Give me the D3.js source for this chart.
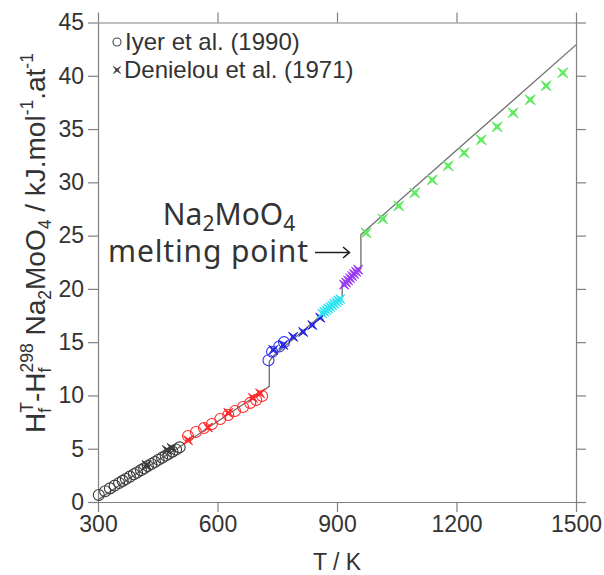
<!DOCTYPE html>
<html>
<head>
<meta charset="utf-8">
<script src="https://cdnjs.cloudflare.com/ajax/libs/d3/7.8.5/d3.min.js"></script>
<style>
body { margin: 0; background: #fff; }
svg text { font-family: "Liberation Sans", Arial, sans-serif; fill: #333; }
</style>
</head>
<body>
<script>
// calculated curve (grey line)
var line_T = [300, 400, 500, 600, 700, 730, 730, 740, 860, 913, 913, 960, 960, 1500]
var line_H = [0.2, 2.75, 5.05, 7.55, 10.05, 10.85, 13.2, 13.7, 17.5, 19.2, 20.4, 21.9, 25.1, 42.9]

// Iyer et al. (1990) - circles
var iyer_black_T = [302, 318, 330, 342, 353, 362, 370, 380, 390, 398, 408, 416, 425, 434, 443, 452, 461, 470, 478, 487, 496, 505]
var iyer_black_H = [0.66, 1.01, 1.28, 1.54, 1.78, 1.98, 2.16, 2.38, 2.6, 2.77, 2.99, 3.17, 3.37, 3.56, 3.76, 3.96, 4.16, 4.36, 4.53, 4.73, 4.93, 5.13]
var iyer_red_T = [526, 546, 566, 586, 607, 627, 644, 664, 682, 697, 712]
var iyer_red_H = [6.2, 6.57, 6.95, 7.32, 7.79, 8.17, 8.54, 8.92, 9.3, 9.58, 9.95]
var iyer_blue_T = [728, 737, 755, 767]
var iyer_blue_H = [13.3, 14.1, 14.6, 15.0]

// Denielou et al. (1971) - crosses
var den_black_T = [422, 473, 485]
var den_black_H = [3.47, 4.88, 5.07]
var den_red_T = [526, 576, 627, 689, 707]
var den_red_H = [5.8, 7.0, 8.36, 9.77, 10.2]
var den_blue_T = [740, 765, 790, 815, 838, 858]
var den_blue_H = [14.27, 14.74, 15.5, 15.96, 16.6, 17.3]
var den_cyan_T = [863, 868, 873, 878, 883, 888, 893, 898, 903, 908]
var den_cyan_H = [17.7, 17.85, 18.0, 18.15, 18.3, 18.45, 18.6, 18.75, 18.9, 19.05]
var den_purple_T = [918, 923, 928, 933, 938, 943, 948, 953]
var den_purple_H = [20.4, 20.6, 20.8, 21.0, 21.2, 21.4, 21.6, 21.8]
var den_green_T = [973, 1015, 1055, 1095, 1139, 1179, 1219, 1262, 1302, 1342, 1385, 1425, 1467]
var den_green_H = [25.26, 26.57, 27.79, 29.01, 30.23, 31.55, 32.77, 33.99, 35.21, 36.53, 37.75, 39.06, 40.28]

var x_ticks = [300, 600, 900, 1200, 1500]
var y_ticks = [0, 5, 10, 15, 20, 25, 30, 35, 40, 45]

var zip = (T, H) => T.map((t, i) => ({T: t, H: H[i]}))

var svg = d3.select('body').append('svg').attr('width', 604).attr('height', 575)

var x = d3.scaleLinear().domain([300, 1500]).range([98, 576])
var y = d3.scaleLinear().domain([0, 45]).range([502, 22.5])

var axis_col = '#808080'
function style_axis(g) {
	g.select('.domain').attr('stroke', axis_col).attr('stroke-width', 1.2)
	g.selectAll('.tick line').attr('stroke', axis_col).attr('stroke-width', 1.2)
	g.selectAll('.tick text').attr('font-size', 23).attr('fill', '#333')
		.style('font-family', '"Liberation Sans", Arial, sans-serif')
}

svg.append('g').attr('transform', 'translate(0,502)')
	.call(d3.axisBottom(x).tickValues(x_ticks).tickSize(10).tickSizeOuter(0).tickPadding(4).tickFormat(d3.format('d')))
	.call(style_axis)
svg.append('g').attr('transform', 'translate(0,22.5)')
	.call(d3.axisTop(x).tickValues(x_ticks).tickSize(10).tickSizeOuter(0).tickFormat(''))
	.call(style_axis)
svg.append('g').attr('transform', 'translate(98,0)')
	.call(d3.axisLeft(y).tickValues(y_ticks).tickSize(10).tickSizeOuter(0).tickPadding(4))
	.call(style_axis)
svg.append('g').attr('transform', 'translate(576,0)')
	.call(d3.axisRight(y).tickValues(y_ticks).tickSize(10).tickSizeOuter(0).tickFormat(''))
	.call(style_axis)

// grey model line
svg.append('path').datum(zip(line_T, line_H))
	.attr('fill', 'none').attr('stroke', '#6e6e6e').attr('stroke-width', 1.3)
	.attr('d', d3.line().x(d => x(d.T)).y(d => y(d.H)))

// x-shaped star marker
function star(s) {
	var i = s * 0.3
	return 'M' + (-s) + ',' + (-s) + 'L0,' + (-i) + 'L' + s + ',' + (-s) + 'L' + i + ',0L' + s + ',' + s +
		'L0,' + i + 'L' + (-s) + ',' + s + 'L' + (-i) + ',0Z'
}

function circles(data, col) {
	svg.append('g').selectAll('circle').data(data).enter().append('circle')
		.attr('cx', d => x(d.T)).attr('cy', d => y(d.H)).attr('r', 5.5)
		.attr('fill', 'none').attr('stroke', col).attr('stroke-width', 1.1)
}
function crosses(data, col, s) {
	svg.append('g').selectAll('path').data(data).enter().append('path')
		.attr('transform', d => 'translate(' + x(d.T) + ',' + y(d.H) + ')')
		.attr('d', star(s)).attr('fill', col).attr('stroke', col).attr('stroke-width', 1)
}

circles(zip(iyer_black_T, iyer_black_H), '#3a3a3a')
circles(zip(iyer_red_T, iyer_red_H), '#ff2a2a')
circles(zip(iyer_blue_T, iyer_blue_H), '#3030f0')
crosses(zip(den_black_T, den_black_H), '#3a3a3a', 4.5)
crosses(zip(den_red_T, den_red_H), '#ff2a2a', 4.5)
crosses(zip(den_blue_T, den_blue_H), '#2828e0', 4.5)
crosses(zip(den_cyan_T, den_cyan_H), '#30e4f0', 4.5)
crosses(zip(den_purple_T, den_purple_H), '#9a3cf0', 4.5)
crosses(zip(den_green_T, den_green_H), '#60ea60', 5)

// legend
var leg = svg.append('g')
leg.append('circle').attr('cx', 117).attr('cy', 42).attr('r', 4)
	.attr('fill', 'none').attr('stroke', '#444').attr('stroke-width', 1.1)
leg.append('text').attr('x', 125).attr('y', 50).attr('font-size', 24).text('Iyer et al. (1990)')
leg.append('path').attr('transform', 'translate(117,70)').attr('d', star(3.5))
	.attr('fill', '#444').attr('stroke', '#444').attr('stroke-width', 0.8)
leg.append('text').attr('x', 124).attr('y', 78).attr('font-size', 24).text('Denielou et al. (1971)')

// axis titles
svg.append('text').attr('x', 337).attr('y', 570).attr('text-anchor', 'middle')
	.attr('font-size', 23).text('T / K')

var ylab = svg.append('text').attr('transform', 'translate(45,243) rotate(-90)')
	.attr('text-anchor', 'middle').attr('font-size', 28)
ylab.append('tspan').text('H')
ylab.append('tspan').attr('font-size', 17.5).attr('dy', -12).text('T')
ylab.append('tspan').attr('font-size', 17.5).attr('dx', -10.7).attr('dy', 18).text('f')
ylab.append('tspan').attr('dx', 5.8).attr('dy', -6).text('-H')
ylab.append('tspan').attr('font-size', 17.5).attr('dy', -12).text('298')
ylab.append('tspan').attr('font-size', 17.5).attr('dx', -29.2).attr('dy', 18).text('f')
ylab.append('tspan').attr('dx', 24.3).attr('dy', -6).text(' Na')
ylab.append('tspan').attr('font-size', 17.5).attr('dy', 6).text('2')
ylab.append('tspan').attr('dy', -6).text('MoO')
ylab.append('tspan').attr('font-size', 17.5).attr('dy', 6).text('4')
ylab.append('tspan').attr('dy', -6).text(' / kJ.mol')
ylab.append('tspan').attr('font-size', 17.5).attr('dy', -12).text('-1')
ylab.append('tspan').attr('dy', 12).text('.at')
ylab.append('tspan').attr('font-size', 17.5).attr('dy', -12).text('-1')

// annotation
var ann = svg.append('g')
var t1 = ann.append('text').attr('x', 229).attr('y', 225).attr('text-anchor', 'middle')
	.attr('font-size', 30).style('font-family', '"Noto Sans", sans-serif').attr('fill', '#222')
t1.append('tspan').text('Na')
t1.append('tspan').attr('font-size', 21).attr('dy', 6).text('2')
t1.append('tspan').attr('dy', -6).text('MoO')
t1.append('tspan').attr('font-size', 21).attr('dy', 6).text('4')
ann.append('text').attr('x', 108).attr('y', 262).attr('font-size', 30)
	.attr('textLength', 200).attr('lengthAdjust', 'spacing')
	.style('font-family', '"Noto Sans", sans-serif').attr('fill', '#222').text('melting point')
ann.append('path').attr('d', 'M315,252.5H349M343,247L349.5,252.5L343,258')
	.attr('fill', 'none').attr('stroke', '#222').attr('stroke-width', 1.6)
</script>
</body>
</html>
